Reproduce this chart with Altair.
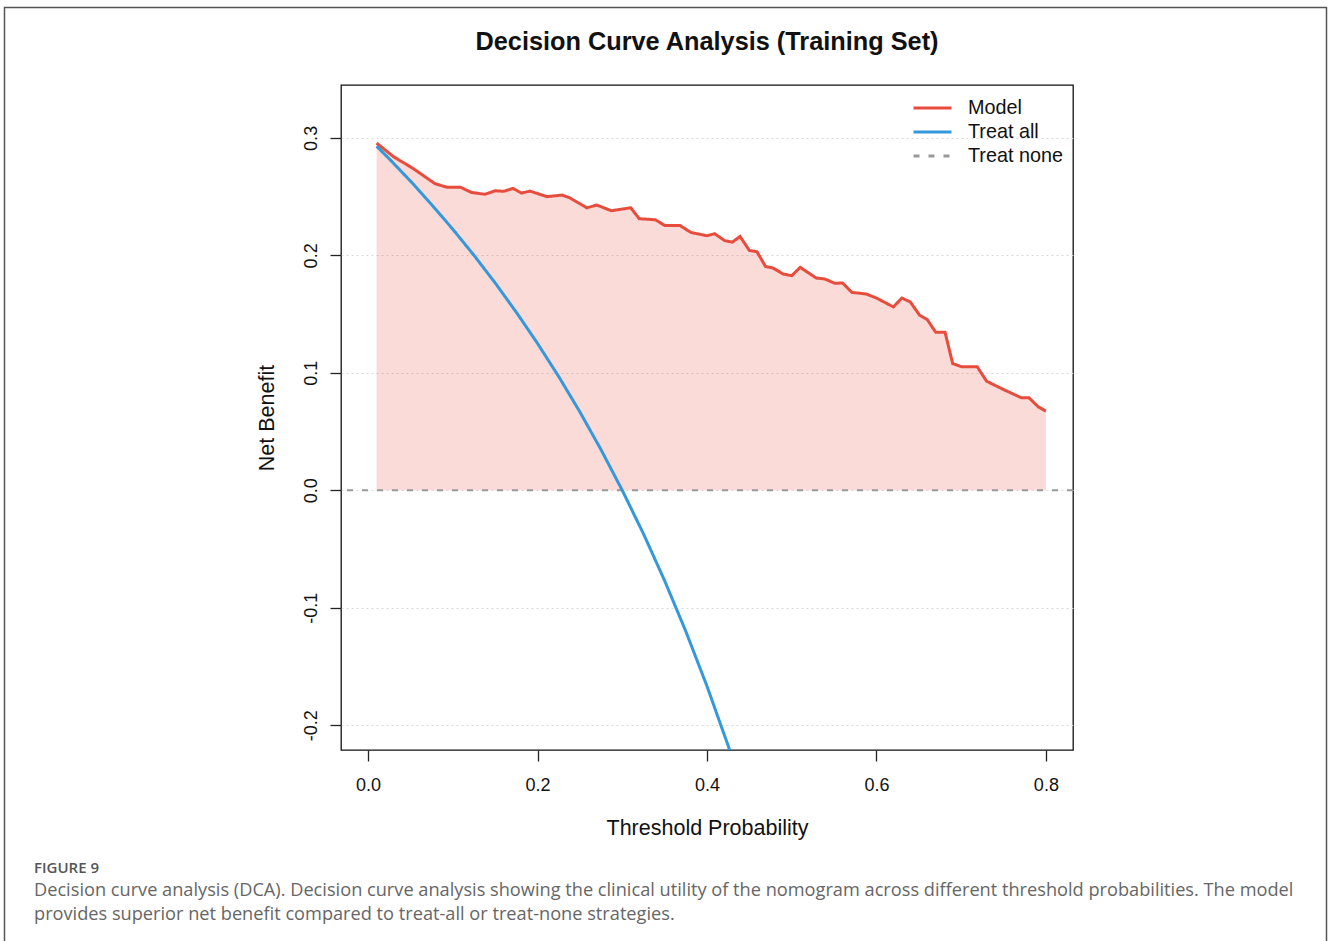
import altair as alt
import pandas as pd

# ---------------- data ----------------
model_t = [0.01, 0.03, 0.053, 0.079, 0.093, 0.109, 0.122, 0.138, 0.150, 0.160,
           0.171, 0.181, 0.191, 0.211, 0.229, 0.238, 0.258, 0.270, 0.287, 0.310,
           0.320, 0.339, 0.350, 0.368, 0.381, 0.400, 0.409, 0.421, 0.430, 0.439,
           0.450, 0.459, 0.469, 0.478, 0.490, 0.500, 0.510, 0.529, 0.539, 0.551,
           0.560, 0.571, 0.588, 0.600, 0.620, 0.630, 0.640, 0.651, 0.660, 0.670,
           0.681, 0.690, 0.701, 0.719, 0.730, 0.750, 0.771, 0.780, 0.791, 0.800]
model_nb = [0.2955, 0.284, 0.274, 0.261, 0.258, 0.258, 0.2535, 0.252, 0.255, 0.2545,
            0.257, 0.253, 0.2547, 0.250, 0.2513, 0.249, 0.2405, 0.2428, 0.238, 0.2405,
            0.2312, 0.2303, 0.2255, 0.2255, 0.2195, 0.2167, 0.2184, 0.2125, 0.2113, 0.2161,
            0.2042, 0.2031, 0.1906, 0.1892, 0.1841, 0.1827, 0.1898, 0.1807, 0.1799, 0.1762,
            0.1765, 0.1685, 0.1671, 0.1637, 0.1561, 0.1637, 0.1603, 0.149, 0.1453, 0.1345,
            0.1345, 0.1079, 0.1051, 0.1051, 0.0929, 0.0858, 0.0788, 0.0788, 0.0711, 0.0674]

all_t = [0.01, 0.025, 0.05, 0.075, 0.10, 0.125, 0.15, 0.175, 0.20, 0.225,
         0.25, 0.275, 0.30, 0.325, 0.35, 0.375, 0.40, 0.425, 0.43]
all_nb = [0.2929, 0.2821, 0.2632, 0.2432, 0.2222, 0.200, 0.1765, 0.1515, 0.125, 0.0968,
          0.0667, 0.0345, 0.0, -0.037, -0.0769, -0.120, -0.1667, -0.2174, -0.2281]

none_nb = [0.0]

series_names = ["Model", "Treat all", "Treat none"]
series_colors = ["#E74C3C", "#3498DB", "#999999"]
series_dash = [[1, 0], [1, 0], [6, 9]]

x_ticks = [0.0, 0.2, 0.4, 0.6, 0.8]
y_ticks = [-0.2, -0.1, 0.0, 0.1, 0.2, 0.3]

title_text = "Decision Curve Analysis (Training Set)"
x_title = "Threshold Probability"
y_title = "Net Benefit"
fig_label = "FIGURE 9"
caption_lines = [
    "Decision curve analysis (DCA). Decision curve analysis showing the clinical utility of the nomogram across different threshold probabilities. The model",
    "provides superior net benefit compared to treat-all or treat-none strategies.",
]

# ---------------- tables ----------------
model_df = pd.DataFrame({"t": model_t, "nb": model_nb, "series": "Model"})
all_df = pd.DataFrame({"t": all_t, "nb": all_nb, "series": "Treat all"})
lines_df = pd.concat([model_df, all_df], ignore_index=True)
none_df = pd.DataFrame({"nb": none_nb, "series": ["Treat none"]})

W, H = 732, 665
PAD_L, PAD_T = 341, 85
PAD_R, PAD_B = 1328 - PAD_L - W, 941 - PAD_T - H

FONT = "Liberation Sans"
CAP_FONT = "Open Sans"

x_scale = alt.Scale(domain=[-0.032, 0.832], nice=False, zero=False)
y_scale = alt.Scale(domain=[-0.221, 0.345], nice=False, zero=False)

neg_fmt = "datum.value < 0 ? '-' + format(-datum.value, '.1f') : format(datum.value, '.1f')"

x_axis = alt.Axis(
    values=x_ticks, labelExpr=neg_fmt, grid=False, domain=False,
    tickSize=11, tickWidth=1.3, tickColor="#222",
    labelFont=FONT, labelFontSize=18, labelColor="#111",
    labelBaseline="alphabetic", labelPadding=29,
    title=x_title, titleFont=FONT, titleFontSize=21.5, titleFontWeight="normal",
    titleColor="#111", titleX=W / 2, titleY=84, titleBaseline="alphabetic",
    titleAlign="center",
)
y_axis = alt.Axis(
    values=y_ticks, labelExpr=neg_fmt, grid=True, gridDash=[2, 3],
    gridColor="#d9d9d9", gridWidth=1, domain=False,
    tickSize=11, tickWidth=1.3, tickColor="#222",
    labelFont=FONT, labelFontSize=18, labelColor="#111",
    labelAngle=270, labelAlign="center", labelBaseline="alphabetic", labelPadding=14,
    title=y_title, titleFont=FONT, titleFontSize=21.5, titleFontWeight="normal",
    titleColor="#111", titleAngle=270, titleX=-68, titleY=H / 2,
    titleBaseline="alphabetic", titleAlign="center",
)

color_scale = alt.Scale(domain=series_names, range=series_colors)
dash_scale = alt.Scale(domain=series_names, range=series_dash)
legend = alt.Legend(
    title=None, orient="none", legendX=571, legendY=11.25,
    symbolType="stroke", symbolSize=1444, symbolStrokeWidth=3,
    labelFont=FONT, labelFontSize=19.8, labelColor="#111", labelOffset=15,
    clipHeight=23.5, rowPadding=0, padding=0,
)

area = alt.Chart(model_df).mark_area(color="#E74C3C", opacity=0.2).encode(
    x=alt.X("t:Q", scale=x_scale, axis=x_axis),
    y=alt.Y("nb:Q", scale=y_scale, axis=y_axis),
    y2=alt.datum(0),
)

none_rule = alt.Chart(none_df).mark_rule(strokeWidth=2).encode(
    y=alt.Y("nb:Q", scale=y_scale),
    color=alt.Color("series:N", scale=color_scale, legend=legend),
    strokeDash=alt.StrokeDash("series:N", scale=dash_scale, legend=legend),
)

lines = alt.Chart(lines_df).mark_line(strokeWidth=3, clip=True).encode(
    x=alt.X("t:Q", scale=x_scale),
    y=alt.Y("nb:Q", scale=y_scale),
    color=alt.Color("series:N", scale=color_scale, legend=legend),
    strokeDash=alt.StrokeDash("series:N", scale=dash_scale, legend=legend),
    order=alt.Order("t:Q"),
)

# chart title
title_df = pd.DataFrame({"text": [title_text]})
title = alt.Chart(title_df).mark_text(
    align="center", baseline="alphabetic", font=FONT, fontSize=25.3,
    fontWeight="bold", color="#111",
).encode(x=alt.value(W / 2), y=alt.value(50 - PAD_T), text="text:N")

# outer figure frame and caption (page furniture of the reference)
frame_df = pd.DataFrame({"k": [1]})
frame = alt.Chart(frame_df).mark_rect(
    fillOpacity=0, stroke="#555555", strokeWidth=1.5
).encode(
    x=alt.value(4.5 - PAD_L), x2=alt.value(1326.5 - PAD_L),
    y=alt.value(7.5 - PAD_T), y2=alt.value(960 - PAD_T),
)

label_df = pd.DataFrame({"text": [fig_label]})
fig_text = alt.Chart(label_df).mark_text(
    align="left", baseline="alphabetic", font=CAP_FONT, fontSize=15,
    fontWeight=600, color="#555555",
).encode(x=alt.value(34 - PAD_L), y=alt.value(873 - PAD_T), text="text:N")

cap1_df = pd.DataFrame({"text": [caption_lines[0]]})
cap2_df = pd.DataFrame({"text": [caption_lines[1]]})
cap1 = alt.Chart(cap1_df).mark_text(
    align="left", baseline="alphabetic", font=CAP_FONT, fontSize=18.2, color="#666666",
).encode(x=alt.value(34 - PAD_L), y=alt.value(896 - PAD_T), text="text:N")
cap2 = alt.Chart(cap2_df).mark_text(
    align="left", baseline="alphabetic", font=CAP_FONT, fontSize=18.2, color="#666666",
).encode(x=alt.value(34 - PAD_L), y=alt.value(920 - PAD_T), text="text:N")

chart = alt.layer(area, none_rule, lines, title, frame, fig_text, cap1, cap2).properties(
    width=W, height=H,
    autosize=alt.AutoSizeParams(type="none"),
    padding={"left": PAD_L, "top": PAD_T, "right": PAD_R, "bottom": PAD_B},
).configure(
    background="white",
    view=alt.ViewConfig(stroke="#111111", strokeWidth=1.3),
)

chart.save("out.html", embed_options={"renderer": "svg", "actions": False})
